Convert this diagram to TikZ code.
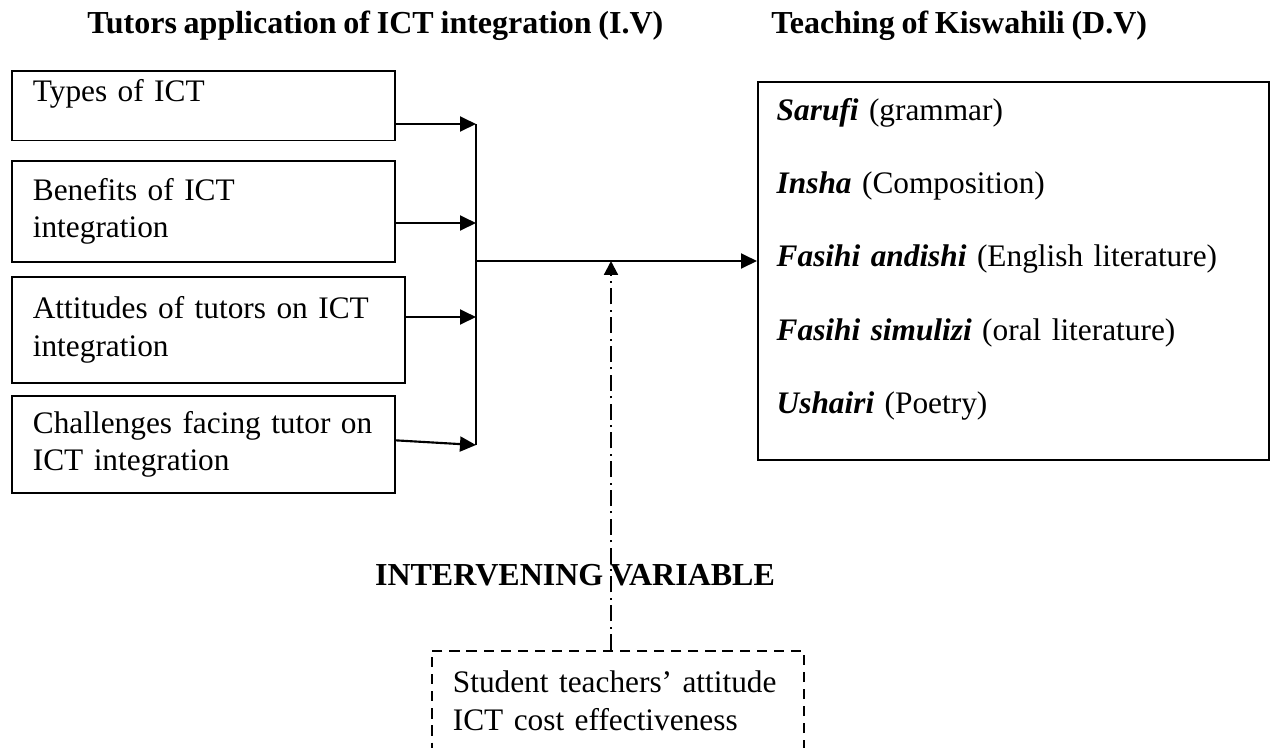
\documentclass[tikz,border=0pt]{standalone}
\usepackage{fontspec}
\setmainfont{Liberation Serif}[WordSpace=0.85]
\usetikzlibrary{arrows.meta}

\begin{document}
\begin{tikzpicture}[x=0.375pt,y=-0.375pt,font=\fontsize{11.75}{14.2}\selectfont,
  ivbox/.style={draw,semithick,anchor=north west,align=left,inner xsep=7.9pt,
    text width=127.8pt,minimum width=143.6pt},
  dvbox/.style={draw,semithick,anchor=north west,align=left,inner xsep=7.1pt,
    text width=177.4pt,minimum width=191.6pt},
  ctxbox/.style={draw,semithick,dash pattern=on 3.8pt off 2.6pt,anchor=north west,
    align=left,inner xsep=7.9pt,text width=123.7pt,minimum width=139.5pt},
  heading/.style={font=\fontsize{12}{14.2}\selectfont\bfseries},
  arr/.style={thick,-{Triangle[length=6pt,width=5.6pt]}},
  ddarr/.style={thick,dash pattern=on 6pt off 2pt on 0.8pt off 2pt,
    -{Triangle[length=5.2pt,width=5.2pt]}}]
  \useasboundingbox (0,0) rectangle (1283,747);
  \clip (0,0) rectangle (1283,747);

  \node[heading,anchor=base west] (ivtitle) at (78,33) {Tutors application of ICT integration (I.V)};
  \node[heading,anchor=base west] (dvtitle) at (762,33) {Teaching of Kiswahili (D.V)};

  \node[ivbox,minimum height=25.5pt,text depth=11.25pt] (b1) at (11,70) {Types of ICT};
  \node[ivbox,minimum height=37.9pt] (b2) at (11,160) {Benefits of ICT\\integration};
  \node[ivbox,minimum height=39.75pt,text width=131.6pt,minimum width=147.4pt] (b3) at (11,276)
    {\mbox{Attitudes of tutors on ICT}\\integration};
  \node[ivbox,minimum height=36.4pt] (b4) at (11,395) {\mbox{Challenges facing tutor on}\\ICT integration};

  \node[dvbox,minimum height=141.75pt,text depth=120.75pt,font=\fontsize{11.75}{27.4}\selectfont] (dv) at (757,81)
    {\textbf{\textit{Sarufi}} (grammar)\\
     \textbf{\textit{Insha}} (Composition)\\
     \textbf{\textit{Fasihi andishi}} (English literature)\\
     \textbf{\textit{Fasihi simulizi}} (oral literature)\\
     \textbf{\textit{Ushairi}} (Poetry)};

  \node[heading,anchor=base] (invtitle) at (575,585) {INTERVENING VARIABLE};
  \node[ctxbox,minimum height=45pt,text depth=21.75pt] (ctx) at (431,650)
    {\mbox{Student teachers’ attitude}\\\mbox{ICT cost effectiveness}};

  \coordinate (t1) at (476,124);
  \coordinate (t2) at (476,223);
  \coordinate (t3) at (476,317);
  \coordinate (t4) at (476,445);
  \coordinate (hub) at (476,261);
  \coordinate (ivin) at (611,261);

  \draw[arr] (b1.east |- t1) -- (t1);
  \draw[arr] (b2.east |- t2) -- (t2);
  \draw[arr] (b3.east |- t3) -- (t3);
  \draw[arr] ([yshift=1.5]b4.east) -- (t4);
  \draw[thick] (t1) -- (t4);
  \draw[arr] (hub) -- (dv.west |- hub);
  \draw[ddarr] (ctx.north -| ivin) -- (ivin);
\end{tikzpicture}
\end{document}
